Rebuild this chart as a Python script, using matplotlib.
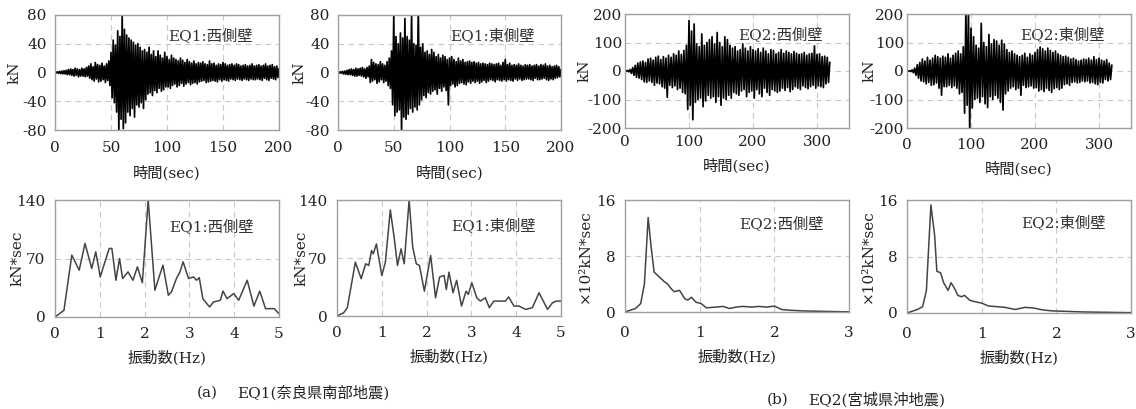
import numpy as np
import matplotlib
matplotlib.use("Agg")
import matplotlib.pyplot as plt

plt.rcParams['font.family'] = ['DejaVu Serif', 'Noto Sans CJK JP']
plt.rcParams['axes.unicode_minus'] = False

# ---------------------------------------------------------------
# Wall shear force time histories (kN), successive peaks every DT s
# ---------------------------------------------------------------
EQ1_DT = 1.0
eq1_west = [
    0, -0.5, 1, -1, 1.5, -1.5, 2, -2, 2.5, -2,
    3, -3, 4, -3, 5, -4, 4, -5, 6, -4,
    5, -6, 4, -5, 6, -5, 5, -6, 7, -5,
    9, -8, 12, -10, 8, -12, 14, -9, 11, -13,
    10, -12, 13, -10, 9, -14, 12, -11, 16, -18,
    28, -35, 45, -42, 38, -55, 58, -80, 50, -65,
    80, -78, 60, -70, 52, -55, 48, -60, 45, -50,
    42, -62, 38, -45, 40, -48, 35, -42, 30, -50,
    32, -38, 28, -30, 35, -28, 25, -32, 30, -25,
    22, -28, 30, -22, 24, -26, 20, -24, 28, -20,
    22, -20, 18, -22, 24, -18, 20, -16, 18, -20,
    16, -18, 20, -15, 17, -19, 14, -16, 18, -14,
    15, -17, 13, -15, 16, -14, 12, -16, 14, -13,
    13, -12, 15, -11, 12, -14, 11, -13, 16, -12,
    12, -11, 13, -12, 10, -13, 12, -10, 11, -12,
    14, -10, 12, -11, 10, -12, 11, -9, 12, -10,
    10, -11, 12, -9, 11, -10, 9, -11, 10, -9,
    11, -10, 9, -11, 10, -9, 12, -10, 9, -10,
    10, -9, 11, -10, 9, -11, 10, -8, 12, -10,
    9, -11, 10, -8, 11, -9, 8, -10, 9, -7,
    5,
]
eq1_east = [
    0, -0.5, 1, -1, 1.5, -2, 2, -2.5, 3, -3,
    4, -3, 5, -4, 4, -5, 6, -5, 5, -4,
    6, -5, 7, -6, 5, -8, 7, -6, 9, -14,
    18, -12, 14, -10, 12, -15, 11, -13, 15, -10,
    12, -14, 10, -12, 15, -18, 20, -22, 30, -45,
    78, -60, 50, -55, 40, -52, 55, -80, 48, -62,
    75, -65, 50, -58, 45, -50, 80, -55, 40, -48,
    38, -52, 90, -45, 35, -38, 40, -32, 28, -35,
    30, -28, 25, -30, 32, -26, 28, -24, 22, -30,
    25, -22, 20, -26, 24, -20, 22, -25, 18, -45,
    20, -18, 22, -16, 18, -20, 15, -18, 20, -15,
    16, -14, 18, -16, 14, -17, 15, -13, 16, -15,
    14, -12, 15, -14, 13, -12, 14, -15, 12, -13,
    13, -11, 12, -14, 11, -12, 13, -10, 12, -11,
    11, -13, 12, -10, 13, -11, 10, -12, 14, -10,
    18, -12, 11, -10, 13, -11, 10, -12, 11, -9,
    10, -11, 12, -9, 10, -11, 9, -10, 11, -9,
    10, -9, 11, -10, 9, -11, 10, -8, 11, -10,
    9, -10, 11, -9, 10, -8, 12, -10, 9, -11,
    10, -9, 8, -10, 9, -8, 10, -7, 8, -6,
    4,
]

EQ2_DT = 2.0
eq2_west = [
    0, -1, 2, -3, 5, -8, 12, -15, 20, -22,
    28, -25, 32, -30, 35, -38, 30, -40, 42, -35,
    45, -40, 38, -50, 48, -42, 52, -45, 40, -55,
    50, -60, 45, -92, 55, -50, 48, -58, 60, -52,
    55, -65, 70, -60, 58, -75, 72, -80, 90, -135,
    177, -120, 140, -171, 165, -110, 95, -100, 85, -95,
    130, -125, 90, -105, 100, -85, 110, -95, 120, -90,
    95, -110, 135, -90, 100, -120, 85, -95, 120, -100,
    110, -85, 90, -95, 80, -75, 85, -80, 70, -85,
    75, -70, 95, -65, 80, -90, 70, -75, 85, -70,
    75, -95, 70, -65, 78, -80, 65, -90, 80, -60,
    70, -75, 60, -85, 75, -65, 72, -70, 60, -75,
    65, -70, 75, -60, 62, -68, 70, -58, 65, -72,
    60, -65, 68, -55, 62, -60, 58, -65, 60, -52,
    65, -58, 55, -62, 60, -55, 62, -50, 88, -60,
    58, -52, 60, -55, 50, -58, 52, -45, 48, -40,
    30,
]
eq2_east = [
    0, -0.5, 1, -2, 4, -6, 10, -15, 22, -25,
    30, -35, 42, -38, 35, -45, 48, -40, 38, -50,
    45, -48, 55, -42, 50, -60, 45, -85, 52, -55,
    48, -55, 60, -50, 45, -58, 55, -52, 62, -60,
    70, -80, 60, -75, 85, -148, 210, -120, 210, -210,
    150, -130, 120, -100, 90, -95, 80, -110, 167, -90,
    100, -115, 85, -128, 128, -90, 95, -100, 110, -85,
    105, -95, 90, -110, 108, -137, 95, -80, 75, -70,
    65, -60, 70, -55, 60, -65, 55, -60, 50, -85,
    55, -50, 62, -58, 48, -55, 60, -52, 55, -60,
    65, -58, 75, -70, 84, -65, 78, -72, 70, -60,
    80, -68, 72, -75, 65, -62, 70, -58, 60, -65,
    55, -60, 50, -48, 52, -45, 48, -50, 42, -40,
    45, -38, 40, -42, 35, -40, 38, -35, 42, -38,
    40, -35, 45, -42, 38, -40, 50, -45, 40, -48,
    45, -40, 38, -42, 35, -30, 40, -35, 28, -30,
    20,
]

# ---------------------------------------------------------------
# Fourier amplitude spectra
# ---------------------------------------------------------------
eq1_west_freq = [0, 0.2, 0.375, 0.54, 0.67, 0.82, 0.91, 1.01, 1.21, 1.27,
                 1.36, 1.44, 1.51, 1.63, 1.74, 1.84, 1.95, 2.08, 2.23, 2.30,
                 2.41, 2.53, 2.60, 2.71, 2.79, 2.86, 2.98, 3.09, 3.16, 3.22,
                 3.30, 3.45, 3.54, 3.69, 3.75, 3.84, 3.99, 4.10, 4.29, 4.44,
                 4.57, 4.70, 4.89, 5.0]
eq1_west_amp = [0, 8, 74, 56, 88, 58, 78, 48, 82, 82,
                44, 70, 46, 54, 44, 60, 41, 140, 32, 44,
                62, 26, 30, 46, 54, 66, 46, 48, 44, 47,
                22, 12, 18, 20, 31, 22, 28, 20, 44, 13,
                31, 10, 10, 4]

eq1_east_freq = [0, 0.15, 0.23, 0.41, 0.54, 0.64, 0.71, 0.77, 0.81, 0.88,
                 1.0, 1.08, 1.19, 1.28, 1.35, 1.43, 1.50, 1.61, 1.69, 1.77,
                 1.84, 1.95, 2.09, 2.20, 2.29, 2.39, 2.44, 2.50, 2.59, 2.67,
                 2.78, 2.88, 2.93, 3.01, 3.12, 3.20, 3.31, 3.40, 3.50, 3.76,
                 3.83, 3.95, 4.06, 4.21, 4.36, 4.51, 4.70, 4.81, 4.90, 5.0]
eq1_east_amp = [0, 4, 10, 65, 45, 63, 61, 79, 75, 87,
                49, 65, 128, 93, 61, 81, 63, 140, 83, 63,
                61, 30, 73, 22, 47, 49, 32, 53, 28, 43,
                12, 30, 26, 40, 22, 18, 22, 10, 18, 18,
                23, 12, 12, 8, 10, 28, 8, 16, 18, 18]

eq2_west_freq = [0, 0.14, 0.21, 0.26, 0.31, 0.35, 0.39, 0.44, 0.48, 0.53,
                 0.57, 0.62, 0.66, 0.73, 0.80, 0.84, 0.89, 0.95, 1.02, 1.09,
                 1.22, 1.31, 1.40, 1.49, 1.58, 1.70, 1.79, 1.90, 2.0, 2.10,
                 2.21, 2.39, 2.62, 2.84, 3.0]
eq2_west_amp = [0, 0.5, 1.2, 4, 13.5, 9.3, 5.7, 5.2, 4.8, 4.3,
                4.0, 3.3, 2.9, 3.1, 1.9, 1.7, 2.1, 1.4, 1.2, 0.6,
                0.7, 0.8, 0.5, 0.7, 0.8, 0.7, 0.8, 0.7, 0.85, 0.35,
                0.25, 0.15, 0.1, 0.05, 0.03]

eq2_east_freq = [0, 0.14, 0.21, 0.26, 0.32, 0.37, 0.40, 0.45, 0.49, 0.55,
                 0.59, 0.64, 0.68, 0.73, 0.77, 0.84, 0.91, 1.0, 1.09, 1.20,
                 1.31, 1.45, 1.58, 1.70, 1.81, 1.94, 2.08, 2.35, 2.66, 3.0]
eq2_east_amp = [0, 0.5, 0.9, 3.2, 15.3, 11, 5.9, 5.7, 4.3, 3.2,
                4.3, 3.4, 2.5, 2.3, 2.5, 1.8, 1.6, 1.4, 1.0, 0.9,
                0.8, 0.5, 0.8, 0.7, 0.45, 0.3, 0.25, 0.15, 0.1, 0.05]

# tick labels
eq1_time_ticks = [0, 50, 100, 150, 200]
eq1_force_ticks = [-80, -40, 0, 40, 80]
eq2_time_ticks = [0, 100, 200, 300]
eq2_force_ticks = [-200, -100, 0, 100, 200]
eq1_freq_ticks = [0, 1, 2, 3, 4, 5]
eq1_amp_ticks = [0, 70, 140]
eq2_freq_ticks = [0, 1, 2, 3]
eq2_amp_ticks = [0, 8, 16]

labels = ['EQ1:西側壁', 'EQ1:東側壁', 'EQ2:西側壁', 'EQ2:東側壁']

# ---------------------------------------------------------------
W, H = 1136, 409
fig = plt.figure(figsize=(W / 100, H / 100), dpi=100)

TXT = '#222222'
FS = 11


def box(left, top, right, bottom):
    return [left / W, 1 - bottom / H, (right - left) / W, (bottom - top) / H]


def style(ax, xlim, ylim, xticks, yticks, xlabel, ylabel, ylab_px,
          xpad, ypad, xlab_pad):
    ax.set_xlim(*xlim)
    ax.set_ylim(*ylim)
    ax.set_xticks(xticks)
    ax.set_yticks(yticks)
    ax.tick_params(length=0, labelsize=FS, colors=TXT)
    ax.tick_params(axis='x', pad=xpad)
    ax.tick_params(axis='y', pad=ypad)
    ax.grid(True, color='#c8c8c8', lw=0.8, ls=(0, (5, 4)))
    ax.set_axisbelow(True)
    for s in ax.spines.values():
        s.set_color('#a0a0a0')
        s.set_linewidth(1.0)
    ax.set_xlabel(xlabel, fontsize=FS, color=TXT, labelpad=xlab_pad)
    ax.set_ylabel(ylabel, fontsize=FS, color=TXT)
    ax.yaxis.label.set_verticalalignment('center')
    # place the y label centre at a given pixel column
    x0 = ax.get_position().x0 * W
    wid = ax.get_position().width * W
    ax.yaxis.set_label_coords((ylab_px - x0) / wid, 0.5)


time_panels = [
    (eq1_west, EQ1_DT, box(55, 15, 279, 130), (0, 200), (-80, 80),
     eq1_time_ticks, eq1_force_ticks, 15, 6, 8),
    (eq1_east, EQ1_DT, box(338, 15, 561, 130), (0, 200), (-80, 80),
     eq1_time_ticks, eq1_force_ticks, 300, 6, 8),
    (eq2_west, EQ2_DT, box(625, 14, 849, 128), (0, 350), (-200, 200),
     eq2_time_ticks, eq2_force_ticks, 585, 2, 5),
    (eq2_east, EQ2_DT, box(907, 14, 1131, 128), (0, 350), (-200, 200),
     eq2_time_ticks, eq2_force_ticks, 870, 2, 7),
]

for i, (vals, dt, pos, xl, yl, xt, yt, lpx, yp, xp) in enumerate(time_panels):
    ax = fig.add_axes(pos)
    t = np.arange(len(vals)) * dt
    ax.plot(t, vals, color='black', lw=1.25)
    style(ax, xl, yl, xt, yt, '時間(sec)', 'kN', lpx, xp, yp, 7)
    ax.text(0.505, 0.82, labels[i], transform=ax.transAxes, fontsize=FS,
            color='#333333', ha='left', va='center')

spec_panels = [
    (eq1_west_freq, eq1_west_amp, box(55, 200, 279, 317), (0, 5), (0, 140),
     eq1_freq_ticks, eq1_amp_ticks, 'kN*sec', 18, 0.77, 7),
    (eq1_east_freq, eq1_east_amp, box(337, 200, 561, 316), (0, 5), (0, 140),
     eq1_freq_ticks, eq1_amp_ticks, 'kN*sec', 302, 0.78, 7),
    (eq2_west_freq, eq2_west_amp, box(625, 200, 849, 312), (0, 3), (0, 16),
     eq2_freq_ticks, eq2_amp_ticks, '×10²kN*sec', 585, 0.79, 10),
    (eq2_east_freq, eq2_east_amp, box(907, 200, 1131, 313), (0, 3), (0, 16),
     eq2_freq_ticks, eq2_amp_ticks, '×10²kN*sec', 868, 0.80, 10),
]

for i, (f, a, pos, xl, yl, xt, yt, ylab, lpx, ty, xp) in enumerate(spec_panels):
    ax = fig.add_axes(pos)
    ax.plot(f, a, color='#444444', lw=1.1)
    style(ax, xl, yl, xt, yt, '振動数(Hz)', ylab, lpx, xp, 7, 7)
    ax.text(0.51, ty, labels[i], transform=ax.transAxes, fontsize=FS,
            color='#333333', ha='left', va='center')

# figure captions
fig.text(197 / W, 1 - 393 / H, '(a)', fontsize=FS, color=TXT, va='center')
fig.text(237 / W, 1 - 393 / H, 'EQ1(奈良県南部地震)', fontsize=FS, color=TXT,
         va='center')
fig.text(767 / W, 1 - 400 / H, '(b)', fontsize=FS, color=TXT, va='center')
fig.text(808 / W, 1 - 400 / H, 'EQ2(宮城県沖地震)', fontsize=FS, color=TXT,
         va='center')

fig.savefig('out.png', dpi=100)
